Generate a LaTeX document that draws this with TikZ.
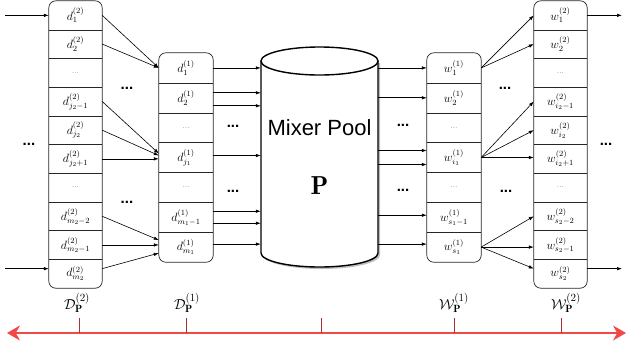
\documentclass[tikz,border=0pt]{standalone}
\usepackage{fontspec}
\setsansfont{Liberation Sans}
\usetikzlibrary{arrows.meta,positioning}
\definecolor{axisred}{RGB}{242,72,72}
\definecolor{tickred}{RGB}{170,50,50}
\newcommand{\celldots}{{\fontsize{8}{9}\selectfont\textcolor{black!60}{...}}}

\begin{document}
\begin{tikzpicture}[x=1pt, y=-1pt, >={Latex[length=5pt,width=3.5pt]},
    cell/.style={minimum width=53pt, inner sep=0pt, font=\fontsize{12}{14}\selectfont},
    frame/.style={draw=black!85, line width=0.7pt, rounded corners=7pt},
    rowline/.style={draw=black!85, line width=0.7pt},
    link/.style={->, line width=0.6pt},
    bigdots/.style={anchor=base, font=\sffamily\bfseries\fontsize{15}{18}\selectfont},
    collabel/.style={font=\fontsize{15}{18}\selectfont},
    axis/.style={axisred, line width=1.2pt, {Stealth[length=13pt,width=15pt]}-{Stealth[length=13pt,width=15pt]}},
    tick/.style={tickred, line width=0.6pt}]
    \useasboundingbox (0,0) rectangle (627,349);

    % Spalte D^(2)
    \foreach \i/\t in {1/$d^{(2)}_{1}$, 2/$d^{(2)}_{2}$, 3/\celldots, 4/$d^{(2)}_{j_2-1}$, 5/$d^{(2)}_{j_2}$,
                       6/$d^{(2)}_{j_2+1}$, 7/\celldots, 8/$d^{(2)}_{m_2-2}$, 9/$d^{(2)}_{m_2-1}$, 10/$d^{(2)}_{m_2}$}
        \node[cell, minimum height=28.7pt] (dtwo\i) at (75.5,{1+28.7*(\i-0.5)}) {\t};
    \draw[frame] (dtwo1.north west) rectangle (dtwo10.south east);
    \foreach \i in {1,...,9}
        \draw[rowline] (dtwo\i.south west) -- (dtwo\i.south east);

    % Spalte D^(1)
    \foreach \i/\t in {1/$d^{(1)}_{1}$, 2/$d^{(1)}_{2}$, 3/\celldots, 4/$d^{(1)}_{j_1}$, 5/\celldots,
                       6/$d^{(1)}_{m_1-1}$, 7/$d^{(1)}_{m_1}$}
        \node[cell, minimum width=54pt, minimum height=29.86pt] (done\i) at (186,{53+29.86*(\i-0.5)}) {\t};
    \draw[frame] (done1.north west) rectangle (done7.south east);
    \foreach \i in {1,...,6}
        \draw[rowline] (done\i.south west) -- (done\i.south east);

    % Spalte W^(1)
    \foreach \i/\t in {1/$w^{(1)}_{1}$, 2/$w^{(1)}_{2}$, 3/\celldots, 4/$w^{(1)}_{i_1}$, 5/\celldots,
                       6/$w^{(1)}_{s_1-1}$, 7/$w^{(1)}_{s_1}$}
        \node[cell, minimum width=54pt, minimum height=29.86pt] (wone\i) at (454,{53+29.86*(\i-0.5)}) {\t};
    \draw[frame] (wone1.north west) rectangle (wone7.south east);
    \foreach \i in {1,...,6}
        \draw[rowline] (wone\i.south west) -- (wone\i.south east);

    % Spalte W^(2)
    \foreach \i/\t in {1/$w^{(2)}_{1}$, 2/$w^{(2)}_{2}$, 3/\celldots, 4/$w^{(2)}_{i_2-1}$, 5/$w^{(2)}_{i_2}$,
                       6/$w^{(2)}_{i_2+1}$, 7/\celldots, 8/$w^{(2)}_{s_2-2}$, 9/$w^{(2)}_{s_2-1}$, 10/$w^{(2)}_{s_2}$}
        \node[cell, minimum height=28.7pt] (wtwo\i) at (560.5,{1+28.7*(\i-0.5)}) {\t};
    \draw[frame] (wtwo1.north west) rectangle (wtwo10.south east);
    \foreach \i in {1,...,9}
        \draw[rowline] (wtwo\i.south west) -- (wtwo\i.south east);

    % Zylinder (Mixer Pool)
    \fill[black!25] (263,63) -- (263,255) arc[start angle=180, end angle=360, x radius=58.5pt, y radius=14pt] -- (380,63) -- cycle;
    \draw[line width=1.4pt, fill=white] (261,61) -- (261,253)
        arc[start angle=180, end angle=360, x radius=58.5pt, y radius=14pt] -- (378,61);
    \draw[line width=1.4pt, fill=white] (319.5,61) ellipse [x radius=58.5pt, y radius=14pt];
    \node[minimum width=117pt, minimum height=220pt, inner sep=0pt] (pool) at (319.5,157) {};
    \node[font=\sffamily\fontsize{22}{26}\selectfont] (poolname) at (319.5,128) {Mixer Pool};
    \node[font=\fontsize{26}{30}\selectfont] (poolsym) at (319.5,186) {$\mathbf{P}$};

    % Pfeile D^(2) -> D^(1)
    \draw[link] (dtwo1.east) -- (done1.west);
    \draw[link] (dtwo2.east) -- (done1.west);
    \draw[link] (dtwo4.east) -- ([yshift=4pt]done4.west);
    \draw[link] (dtwo5.east) -- ([yshift=2pt]done4.west);
    \draw[link] (dtwo6.east) -- (dtwo6.east -| done4.west);
    \draw[link] (dtwo8.east) -- ([yshift=7pt]done7.west);
    \draw[link] (dtwo9.east) -- (dtwo9.east -| done7.west);
    \draw[link] ([yshift=5pt]dtwo10.east) -- ([yshift=-6pt]done7.west);

    % Pfeile D^(1) -> Pool
    \foreach \n/\s in {1/0, 2/5, 2/-8, 4/2, 6/6, 6/-6, 7/3}
        \draw[link] ([yshift=\s pt]done\n.east) -- ([yshift=\s pt]done\n.east -| pool.west);

    % Pfeile Pool -> W^(1)
    \foreach \n/\s in {1/0, 2/0, 4/7, 4/-7, 6/2, 7/3}
        \draw[link] ([yshift=\s pt]wone\n.west -| pool.east) -- ([yshift=\s pt]wone\n.west);

    % Pfeile W^(1) -> W^(2)
    \draw[link] (wone1.east) -- (wtwo1.west);
    \draw[link] (wone1.east) -- (wtwo2.west);
    \draw[link] (wone4.east) -- (wtwo4.west);
    \draw[link] (wone4.east) -- (wtwo5.west);
    \draw[link] (wone4.east) -- (wone4.east -| wtwo6.west);
    \draw[link] (wone7.east) -- (wtwo8.west);
    \draw[link] (wone7.east) -- (wone7.east -| wtwo9.west);
    \draw[link] (wone7.east) -- ([yshift=5pt]wtwo10.west);

    % Ein- und Ausgaenge
    \coordinate (lftEdge) at (5,0);
    \coordinate (rgtEdge) at (622,0);
    \draw[link] (dtwo1.west -| lftEdge) -- (dtwo1.west);
    \draw[link] ([yshift=5pt]dtwo10.west -| lftEdge) -- ([yshift=5pt]dtwo10.west);
    \draw[link] (wtwo1.east) -- (wtwo1.east -| rgtEdge);
    \draw[link] ([yshift=5pt]wtwo10.east) -- ([yshift=5pt]wtwo10.east -| rgtEdge);

    % Punkte zwischen den Spalten
    \foreach \g/\x/\y in {gapL/29/144, gapDa/127/88, gapDb/127/202, gapPa/233/126, gapPb/233/191,
                          gapQa/403/125, gapQb/403/190, gapWa/505/88, gapWb/506/191, gapR/606/144}
        \node[bigdots] (\g) at (\x,\y+1) {...};

    % Beschriftungen
    \node[collabel] (labDtwo) at (77,303) {$\mathcal{D}^{(2)}_{\mathbf{P}}$};
    \node[collabel] (labDone) at (187,303) {$\mathcal{D}^{(1)}_{\mathbf{P}}$};
    \node[collabel] (labWone) at (454,303) {$\mathcal{W}^{(1)}_{\mathbf{P}}$};
    \node[collabel] (labWtwo) at (566,303) {$\mathcal{W}^{(2)}_{\mathbf{P}}$};

    % Achse
    \coordinate (axL) at (7,333);
    \coordinate (axR) at (626,333);
    \draw[axis] (axL) -- (axR);
    \foreach \x in {79,186,321,454,561}
        \draw[tick] (\x,318) -- (\x,333);
\end{tikzpicture}
\end{document}
